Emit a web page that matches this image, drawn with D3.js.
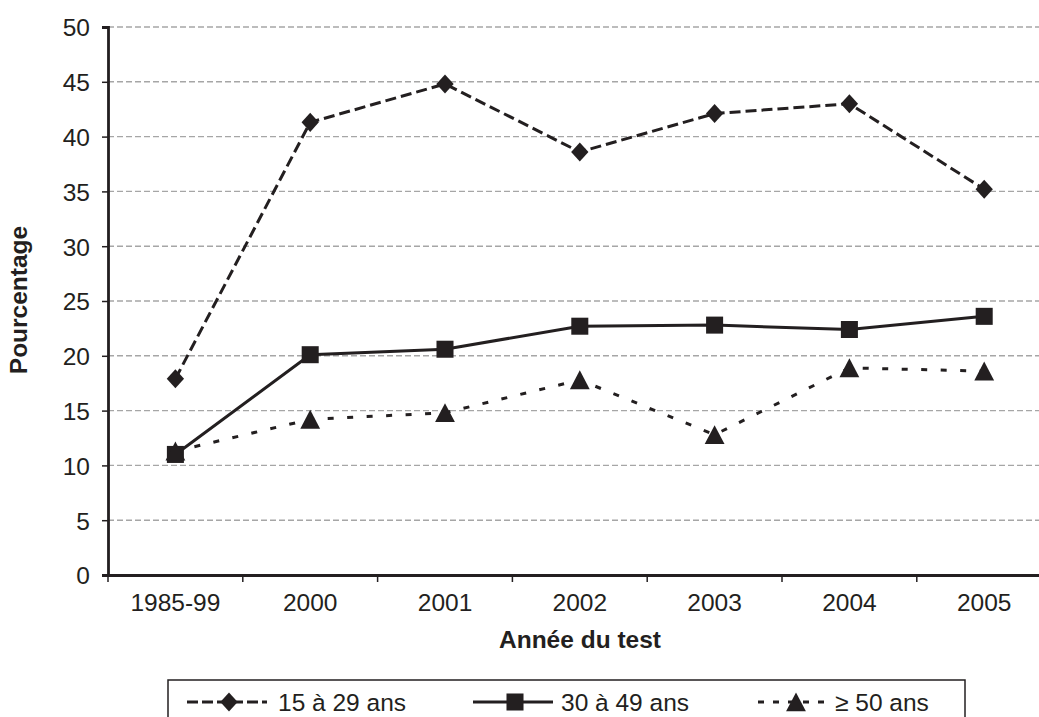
<!DOCTYPE html>
<html>
<head>
<meta charset="utf-8">
<script src="https://cdn.jsdelivr.net/npm/d3@7"></script>
<style>
  body { margin: 0; background: #fff; }
  text { font-family: "Liberation Sans", Arial, sans-serif; fill: #231f20; }
</style>
</head>
<body>
<svg id="chart"></svg>
<script>
// data
var categories = ["1985-99", "2000", "2001", "2002", "2003", "2004", "2005"];
var age15to29 = [17.9, 41.3, 44.8, 38.6, 42.1, 43.0, 35.2];
var age30to49 = [11.0, 20.1, 20.6, 22.7, 22.8, 22.4, 23.6];
var age50plus = [11.3, 14.2, 14.8, 17.8, 12.8, 18.9, 18.6];
var seriesNames = ["15 à 29 ans", "30 à 49 ans", "\u2265 50 ans"];
var yTicks = [0, 5, 10, 15, 20, 25, 30, 35, 40, 45, 50];

var widthSVG = 1039;
var heightSVG = 717;
var ink = "#231f20";
var fontSize = "24.5px";

var svg = d3.select("#chart")
  .attr("width", widthSVG)
  .attr("height", heightSVG);

// the plot runs past the right edge of the picture
var xLeft = 108, band = 134.8;
var xScale = d3.scaleBand()
  .domain(categories)
  .range([xLeft, xLeft + band * categories.length]);

var yScale = d3.scaleLinear()
  .domain([0, 50])
  .range([575, 27]);

// gridlines
svg.append("g").selectAll("line")
  .data(yTicks.filter(d => d > 0))
  .enter().append("line")
  .attr("x1", xLeft)
  .attr("x2", widthSVG)
  .attr("y1", d => yScale(d))
  .attr("y2", d => yScale(d))
  .attr("stroke", "#a6a6a6")
  .attr("stroke-width", 1.4)
  .attr("stroke-dasharray", "6,3");

// axes
var yAxis = svg.append("g")
  .attr("transform", `translate(${xLeft},0)`)
  .call(d3.axisLeft(yScale).tickValues(yTicks).tickSize(6).tickPadding(12));

var xAxis = svg.append("g")
  .attr("transform", `translate(0,${yScale(0)})`)
  .call(d3.axisBottom(xScale).tickSize(0).tickPadding(19));

// band edge ticks on the x axis
svg.append("g").selectAll("line")
  .data(d3.range(categories.length + 1))
  .enter().append("line")
  .attr("x1", i => xLeft + i * band)
  .attr("x2", i => xLeft + i * band)
  .attr("y1", yScale(0))
  .attr("y2", yScale(0) + 7)
  .attr("stroke", ink)
  .attr("stroke-width", 1.5);

[yAxis, xAxis].forEach(function(ax) {
  ax.select(".domain").attr("stroke", ink).attr("stroke-width", 2.8);
  ax.selectAll(".tick line").attr("stroke", ink).attr("stroke-width", 1.5);
  ax.selectAll(".tick text")
    .style("font-family", "Liberation Sans, Arial, sans-serif")
    .style("font-size", fontSize)
    .attr("fill", ink);
});
yAxis.selectAll(".tick text").attr("dy", "0.36em");

// axis titles
svg.append("text")
  .attr("transform", "translate(27,300) rotate(-90)")
  .attr("text-anchor", "middle")
  .style("font-size", fontSize)
  .style("font-weight", "bold")
  .text("Pourcentage");

svg.append("text")
  .attr("x", 580)
  .attr("y", 648)
  .attr("text-anchor", "middle")
  .style("font-size", fontSize)
  .style("font-weight", "bold")
  .text("Année du test");

// series
function diamond() { return d3.symbol().type(d3.symbolSquare).size(150)(); }
function square() { return d3.symbol().type(d3.symbolSquare).size(290)(); }
function triangle() { return d3.symbol().type(d3.symbolTriangle).size(170)(); }

var series = [
  { values: age15to29, dash: "11,5", legendDash: "11,4", path: diamond, shape: "scale(1,1.1) rotate(45)" },
  { values: age30to49, dash: null, legendDash: null, path: square, shape: "" },
  { values: age50plus, dash: "6,13.5", legendDash: "6,9", path: triangle, shape: "translate(0,3) scale(1,1.1)" }
];

var line = d3.line()
  .x((d, i) => xScale(categories[i]) + xScale.bandwidth() / 2)
  .y(d => yScale(d));

series.forEach(function(s) {
  svg.append("path")
    .datum(s.values)
    .attr("d", line)
    .attr("fill", "none")
    .attr("stroke", ink)
    .attr("stroke-width", 3)
    .attr("stroke-dasharray", s.dash);
});

series.forEach(function(s) {
  svg.append("g").selectAll("path")
    .data(s.values)
    .enter().append("path")
    .attr("d", s.path())
    .attr("transform", (d, i) =>
      `translate(${xScale(categories[i]) + xScale.bandwidth() / 2},${yScale(d)}) ${s.shape}`)
    .attr("fill", ink);
});

// legend
svg.append("rect")
  .attr("x", 168)
  .attr("y", 680)
  .attr("width", 797)
  .attr("height", 60)
  .attr("fill", "none")
  .attr("stroke", ink)
  .attr("stroke-width", 1.5);

var legendX = [187, 473, 758];
var lineLen = [80, 80, 72];
var textOffset = [91, 88, 77];
var legendY = 702;
series.forEach(function(s, i) {
  var g = svg.append("g").attr("transform", `translate(${legendX[i]},${legendY})`);
  g.append("line")
    .attr("x1", 0).attr("x2", lineLen[i])
    .attr("stroke", ink)
    .attr("stroke-width", 3)
    .attr("stroke-dasharray", s.legendDash);
  g.append("path")
    .attr("d", s.path())
    .attr("transform", `translate(${lineLen[i] / 2 + 2},0) ${s.shape}`)
    .attr("fill", ink);
  g.append("text")
    .attr("x", textOffset[i])
    .attr("y", 0)
    .attr("dy", "0.35em")
    .style("font-size", fontSize)
    .text(seriesNames[i]);
});
</script>
</body>
</html>
